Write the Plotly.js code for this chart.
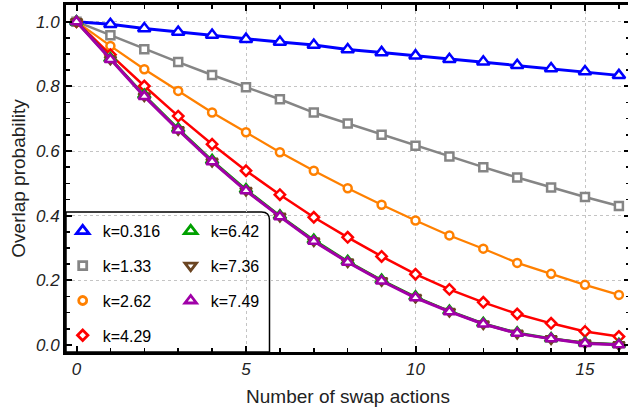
<!DOCTYPE html>
<html>
<head>
<meta charset="utf-8">
<script src="https://cdn.plot.ly/plotly-3.0.1.min.js"></script>
<style>
  html, body { margin: 0; padding: 0; overflow: hidden; background: #fff; }
  #chart { width: 632px; height: 408px; }
</style>
</head>
<body>
<div id="chart"></div>
<script>
// Number of swap actions (x axis)
const steps = [0, 1, 2, 3, 4, 5, 6, 7, 8, 9, 10, 11, 12, 13, 14, 15, 16];

// Series labels
const kLabels = ["k=0.316", "k=1.33", "k=2.62", "k=4.29", "k=6.42", "k=7.36", "k=7.49"];

// Overlap probability for each k
const k0316 = [1.000, 0.992, 0.979, 0.968, 0.959, 0.946, 0.937, 0.928, 0.914, 0.905, 0.895, 0.884, 0.876, 0.865, 0.855, 0.846, 0.834];
const k133  = [1.000, 0.958, 0.915, 0.875, 0.835, 0.797, 0.760, 0.719, 0.685, 0.650, 0.616, 0.583, 0.550, 0.518, 0.487, 0.458, 0.430];
const k262  = [1.000, 0.925, 0.853, 0.786, 0.719, 0.658, 0.596, 0.539, 0.485, 0.434, 0.385, 0.339, 0.298, 0.254, 0.220, 0.186, 0.155];
const k429  = [1.000, 0.898, 0.801, 0.708, 0.621, 0.539, 0.465, 0.395, 0.333, 0.274, 0.219, 0.172, 0.132, 0.096, 0.067, 0.042, 0.026];
const k642  = [1.000, 0.886, 0.773, 0.669, 0.571, 0.481, 0.400, 0.325, 0.259, 0.201, 0.149, 0.105, 0.067, 0.038, 0.020, 0.007, 0.002];
const k736  = [1.000, 0.884, 0.770, 0.666, 0.568, 0.478, 0.398, 0.322, 0.257, 0.199, 0.147, 0.104, 0.065, 0.036, 0.019, 0.006, 0.001];
const k749  = [1.000, 0.883, 0.769, 0.665, 0.567, 0.477, 0.397, 0.321, 0.256, 0.198, 0.146, 0.103, 0.065, 0.036, 0.019, 0.005, 0.001];

const seriesValues = [k0316, k133, k262, k429, k642, k736, k749];

// Styling per series
const colors  = ["#0000ff", "#858585", "#ff8000", "#ff0000", "#00a000", "#6b4522", "#a000a8"];
const symbols = ["triangle-up", "square", "circle", "diamond", "triangle-up", "triangle-down", "triangle-up"];
const msizes  = [11, 8, 8, 8, 11, 10, 10];
const lwidths = [3, 2.5, 2.2, 2.5, 2.5, 2.5, 3];
const legendOf = ["legend", "legend", "legend", "legend", "legend2", "legend2", "legend2"];

const FONT = "Liberation Sans, Arial, sans-serif";

const traces = [];
// Data curves
seriesValues.forEach((vals, i) => {
  traces.push({
    type: "scatter", mode: "lines+markers",
    x: steps, y: vals, name: kLabels[i],
    showlegend: false, legendgroup: "g" + i,
    line: { color: colors[i], width: lwidths[i] },
    marker: { symbol: symbols[i], size: msizes[i], color: "#ffffff",
              line: { color: colors[i], width: 2.5 } },
    cliponaxis: false, hoverinfo: "skip"
  });
});
// Legend entries (marker only)
seriesValues.forEach((vals, i) => {
  traces.push({
    type: "scatter", mode: "markers",
    x: [null], y: [null], name: kLabels[i],
    legend: legendOf[i], legendgroup: "g" + i, showlegend: true,
    marker: { symbol: symbols[i], size: msizes[i], color: "#ffffff",
              line: { color: colors[i], width: 2.8 } }
  });
});

// Plot area in pixels
const L = 66, R = 630, T = 5, B = 352;
const W = R - L, H = B - T;
const px = p => (p - L) / W;
const py = p => (B - p) / H;

// Legend panel with a rounded top-right corner
const bx = px(269.5), by = py(212), rx = 8 / W, ry = 8 / H;
const panel = `M 0 0 L 0 ${by} L ${bx - rx} ${by} Q ${bx} ${by} ${bx} ${by - ry} L ${bx} 0 Z`;

const axisCommon = {
  showline: true, linecolor: "#000", linewidth: 3, mirror: "allticks",
  ticks: "inside", ticklen: 6, tickwidth: 2, tickcolor: "#000",
  showgrid: true, gridcolor: "#c4c4c4", gridwidth: 1, griddash: "dot",
  zeroline: true, zerolinecolor: "rgba(0,0,0,0)", zerolinewidth: 1,
  tickfont: { family: FONT, size: 17, color: "#222", style: "italic" },
  fixedrange: true
};

const layout = {
  width: 632, height: 408,
  margin: { l: L, r: 632 - R, t: T, b: 408 - B },
  paper_bgcolor: "#fff", plot_bgcolor: "#fff",
  xaxis: Object.assign({}, axisCommon, {
    range: [(L - 76.5) / 33.9, (R - 76.5) / 33.9],
    tick0: 0, dtick: 5,
    minor: { dtick: 1, ticklen: 4, tickwidth: 1.5, tickcolor: "#000", ticks: "inside", showgrid: false },
    title: { text: "Number of swap actions", font: { family: FONT, size: 19, color: "#222" }, standoff: 12 }
  }),
  yaxis: Object.assign({}, axisCommon, {
    range: [(345 - B) / 323.3, (345 - T) / 323.3],
    tick0: 0, dtick: 0.2, tickformat: ".1f",
    minor: { dtick: 0.05, ticklen: 4, tickwidth: 1.5, tickcolor: "#000", ticks: "inside", showgrid: false },
    title: { text: "Overlap probability", font: { family: FONT, size: 19, color: "#222" }, standoff: 6 }
  }),
  shapes: [{
    type: "path", xref: "paper", yref: "paper", layer: "between",
    path: panel, fillcolor: "#ffffff", line: { color: "#000", width: 1.5 }
  }],
  legend: {
    x: px(62.7), y: py(214), xanchor: "left", yanchor: "top",
    bgcolor: "rgba(0,0,0,0)", borderwidth: 0, traceorder: "grouped", tracegroupgap: 11,
    font: { family: FONT, size: 16, color: "#000" }
  },
  legend2: {
    x: px(170.7), y: py(214), xanchor: "left", yanchor: "top",
    bgcolor: "rgba(0,0,0,0)", borderwidth: 0, traceorder: "grouped", tracegroupgap: 11,
    font: { family: FONT, size: 16, color: "#000" }
  },
  showlegend: true
};

Plotly.newPlot("chart", traces, layout, { displayModeBar: false, staticPlot: true });
</script>
</body>
</html>
